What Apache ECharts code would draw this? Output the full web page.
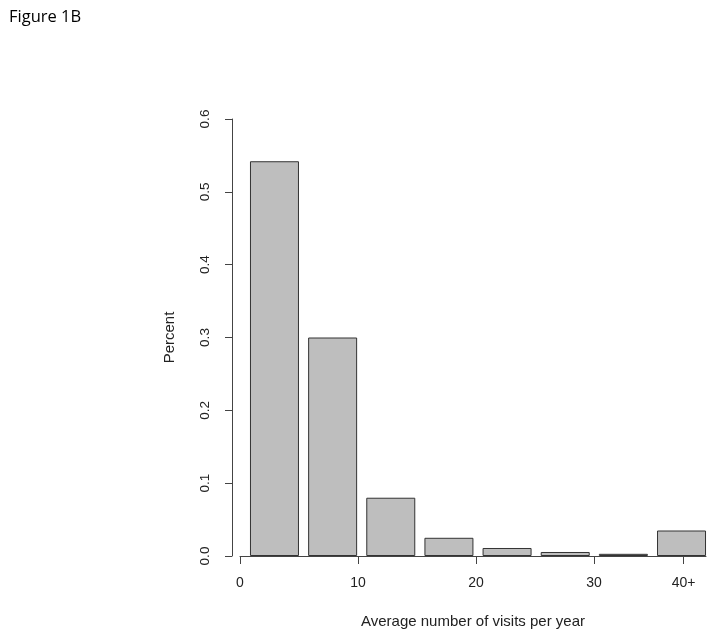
<!DOCTYPE html>
<html>
<head>
<meta charset="utf-8">
<script src="https://cdn.jsdelivr.net/npm/echarts@6/dist/echarts.min.js"></script>
<style>
  html, body { margin: 0; padding: 0; background: #fff; }
  #chart { width: 714px; height: 636px; }
</style>
</head>
<body>
<div id="chart"></div>
<script>
// bins of average visits per year
const bins = ['0-5', '5-10', '10-15', '15-20', '20-25', '25-30', '30-35', '40+'];
const percents = [0.542, 0.300, 0.080, 0.025, 0.011, 0.0055, 0.003, 0.035];

// x axis ticks (position on visits scale) and their labels
const xTickValues = [0, 10, 20, 30, 37.6];
const xTickLabels = ['0', '10', '20', '30', '40+'];

const chart = echarts.init(document.getElementById('chart'));
const font = 'Liberation Sans, Arial, sans-serif';
const axisColor = '#444';

chart.setOption({
  animation: false,
  backgroundColor: '#fff',
  title: {
    text: 'Figure 1B',
    left: 4,
    top: 4,
    textStyle: { fontFamily: 'Open Sans, Liberation Sans, sans-serif', fontSize: 16.5, fontWeight: 'normal', color: '#000' }
  },
  grid: [
    { left: 240, right: 8, top: 119, bottom: 80 },
    { left: 245.4, right: 3.4, top: 119, bottom: 80 }
  ],
  xAxis: [
    {
      type: 'value',
      gridIndex: 0,
      min: 0,
      max: 39.5,
      splitLine: { show: false },
      axisLine: { show: true, onZero: false, lineStyle: { color: axisColor, width: 1 } },
      axisTick: {
        show: true,
        length: 8,
        customValues: xTickValues,
        lineStyle: { color: axisColor }
      },
      axisLabel: {
        customValues: xTickValues,
        formatter: (v) => {
          const i = xTickValues.indexOf(v);
          return i >= 0 ? xTickLabels[i] : '';
        },
        margin: 20,
        fontFamily: font,
        fontSize: 14,
        color: '#222'
      },
      name: 'Average number of visits per year',
      nameLocation: 'middle',
      nameGap: 58,
      nameTextStyle: { fontFamily: font, fontSize: 15, color: '#222' }
    },
    {
      type: 'category',
      gridIndex: 1,
      data: bins,
      show: false
    }
  ],
  yAxis: [
    {
      type: 'value',
      gridIndex: 0,
      min: 0,
      max: 0.6,
      interval: 0.1,
      offset: 8,
      splitLine: { show: false },
      axisLine: { show: true, onZero: false, lineStyle: { color: axisColor, width: 1 } },
      axisTick: { show: true, length: 7, lineStyle: { color: axisColor } },
      axisLabel: {
        rotate: 90,
        margin: 20,
        formatter: (v) => v.toFixed(1),
        fontFamily: font,
        fontSize: 13.5,
        color: '#222'
      },
      name: 'Percent',
      nameLocation: 'middle',
      nameRotate: 90,
      nameGap: 55,
      nameTextStyle: { fontFamily: font, fontSize: 15, color: '#222' }
    },
    {
      type: 'value',
      gridIndex: 1,
      min: 0,
      max: 0.6,
      show: false
    }
  ],
  series: [
    {
      type: 'bar',
      xAxisIndex: 1,
      yAxisIndex: 1,
      data: percents,
      barWidth: 49,
      itemStyle: { color: '#bebebe', borderColor: '#333', borderWidth: 1 }
    }
  ]
});
</script>
</body>
</html>
